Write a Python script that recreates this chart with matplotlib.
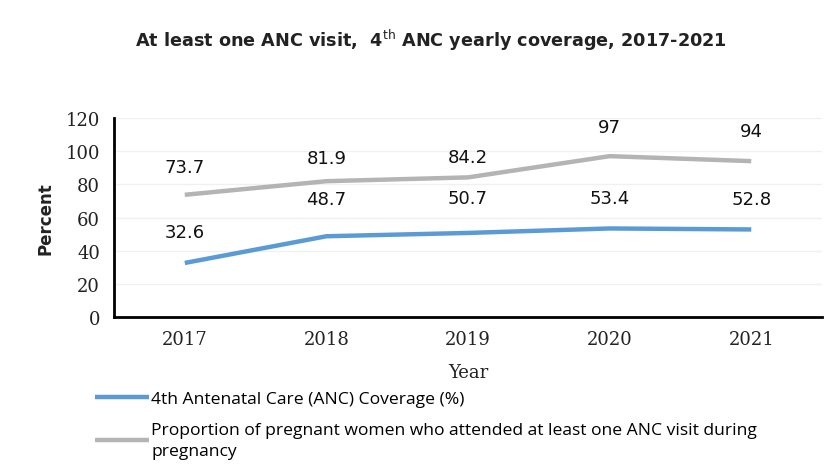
import matplotlib.pyplot as plt

# ANC coverage by year
years = ["2017", "2018", "2019", "2020", "2021"]
anc4 = [32.6, 48.7, 50.7, 53.4, 52.8]
anc1 = [73.7, 81.9, 84.2, 97, 94]
anc4_label = "4th Antenatal Care (ANC) Coverage (%)"
anc1_label = ("Proportion of pregnant women who attended at least one ANC visit during\n"
              "pregnancy")

# label offsets above each point (points)
anc4_off = [22, 27, 25, 22, 22]
anc1_off = [20, 17, 15, 21, 22]

blue = "#5b9bd5"
grey = "#b4b4b4"

fig = plt.figure(figsize=(8.35, 4.77), dpi=100)
ax = fig.add_axes([0.1365, 0.3333, 0.848, 0.4172])

x = range(len(years))
l1, = ax.plot(x, anc4, color=blue, lw=3.2, solid_capstyle="butt")
l2, = ax.plot(x, anc1, color=grey, lw=3.2, solid_capstyle="butt")

for xi, v, o in zip(x, anc4, anc4_off):
    ax.annotate(f"{v:g}", (xi, v), xytext=(0, o), textcoords="offset points",
                ha="center", va="center", fontsize=13, color="#111111")
for xi, v, o in zip(x, anc1, anc1_off):
    ax.annotate(f"{v:g}", (xi, v), xytext=(0, o), textcoords="offset points",
                ha="center", va="center", fontsize=13, color="#111111")

ax.set_xlim(-0.5, 4.5)
ax.set_ylim(0, 120)
ax.set_yticks(range(0, 121, 20))
ax.set_xticks(list(x))
ax.set_xticklabels(years)
ax.tick_params(length=0, labelsize=13, pad=10)
ax.tick_params(axis="x", pad=9)
for t in ax.get_xticklabels() + ax.get_yticklabels():
    t.set_family("DejaVu Serif")
    t.set_color("#222222")
ax.grid(axis="y", color="#f0f0f0", lw=1)
ax.set_axisbelow(True)
for s in ["top", "right"]:
    ax.spines[s].set_visible(False)
for s in ["left", "bottom"]:
    ax.spines[s].set_linewidth(2)
    ax.spines[s].set_color("black")

ax.set_ylabel("Percent", fontsize=12, fontweight="bold", labelpad=8, color="#222222")
ax.set_xlabel("Year", fontsize=13, family="DejaVu Serif", labelpad=11, color="#222222")

fig.text(0.516, 0.915, "At least one ANC visit,  4$^{\\rm th}$ ANC yearly coverage, 2017-2021",
         ha="center", va="center", fontsize=12.7, fontweight="bold", color="#222222")

# legend sits under the axis
leg = fig.legend([l1, l2], [anc4_label, anc1_label], loc="upper left",
                 bbox_to_anchor=(0.095, 0.212), frameon=False,
                 handlelength=3.1, handletextpad=0.1, labelspacing=0.85,
                 prop={"family": "Open Sans", "size": 12.6})
for t in leg.get_texts():
    t.set_linespacing(1.45)

fig.savefig("out.png", dpi=100)
